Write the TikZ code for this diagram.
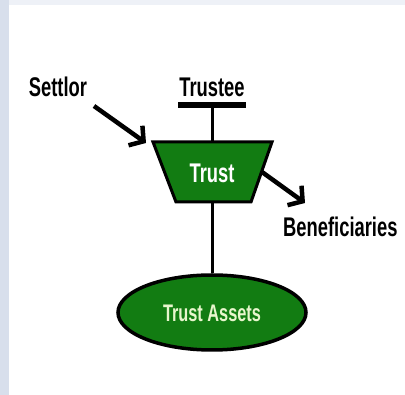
\documentclass[tikz,border=0pt]{standalone}
\usepackage{fontspec}
\setmainfont[FakeStretch=0.68]{Liberation Sans}
\usetikzlibrary{arrows.meta,shapes.geometric}
\definecolor{trustgreen}{RGB}{18,124,18}
\definecolor{assettext}{RGB}{232,246,205}
\definecolor{sidestrip}{RGB}{216,223,236}
\definecolor{topstrip}{RGB}{238,241,247}
\begin{document}
\begin{tikzpicture}[x=1pt,y=-1pt,
  label/.style={font=\fontsize{27}{27}\selectfont\bfseries, inner sep=0pt},
  link/.style={line width=3pt},
  pointer/.style={line width=4.5pt, line join=miter, -{Straight Barb[length=10pt,width=24pt,line width=4.5pt]}}]
  % page background with light frame strips
  \useasboundingbox (0,0) rectangle (405,395);
  \fill[white] (0,0) rectangle (405,395);
  \fill[topstrip] (0,0) rectangle (405,5);
  \fill[sidestrip] (0,0) rectangle (9,395);

  % labels
  \node[label] (settlor) at (58,87) {Settlor};
  \node[label] (trustee) at (212,87) {Trustee};
  \node[label, anchor=west] (benef) at (283,227) {Beneficiaries};

  % trustee bar
  \coordinate (barL) at (178,105);
  \coordinate (barR) at (246,105);
  \draw[line width=5.5pt] (barL) -- (barR);
  \coordinate (barM) at (212,105);

  % trust trapezoid
  \coordinate (tl) at (153,142);
  \coordinate (tr) at (272,142);
  \coordinate (br) at (251,202);
  \coordinate (bl) at (176,202);
  \draw[line width=3pt, fill=trustgreen, line join=miter] (tl) -- (tr) -- (br) -- (bl) -- cycle;
  \node[font=\fontsize{27}{27}\selectfont\bfseries, text=white, inner sep=0pt] (trust) at (212,173) {Trust};
  \coordinate (trustTop) at (212,142);
  \coordinate (trustBot) at (212,202);

  % trust assets ellipse
  \node[ellipse, draw, line width=3.5pt, fill=trustgreen, minimum width=188pt, minimum height=75pt,
        inner sep=0pt] (assets) at (212,312.5) {};
  \node[font=\fontsize{24}{24}\selectfont\bfseries, text=assettext, inner sep=0pt] (assetsLabel) at (212,313) {Trust Assets};

  % connectors
  \draw[link] (barM) -- (trustTop);
  \draw[link] (trustBot) -- (assets.north);

  % arrows
  \coordinate (sStart) at (94,106);
  \coordinate (sTip) at (146,143);
  \draw[pointer] (sStart) -- (sTip);
  \coordinate (bStart) at (262,172);
  \coordinate (bTip) at (305,203);
  \draw[pointer] (bStart) -- (bTip);
\end{tikzpicture}
\end{document}
